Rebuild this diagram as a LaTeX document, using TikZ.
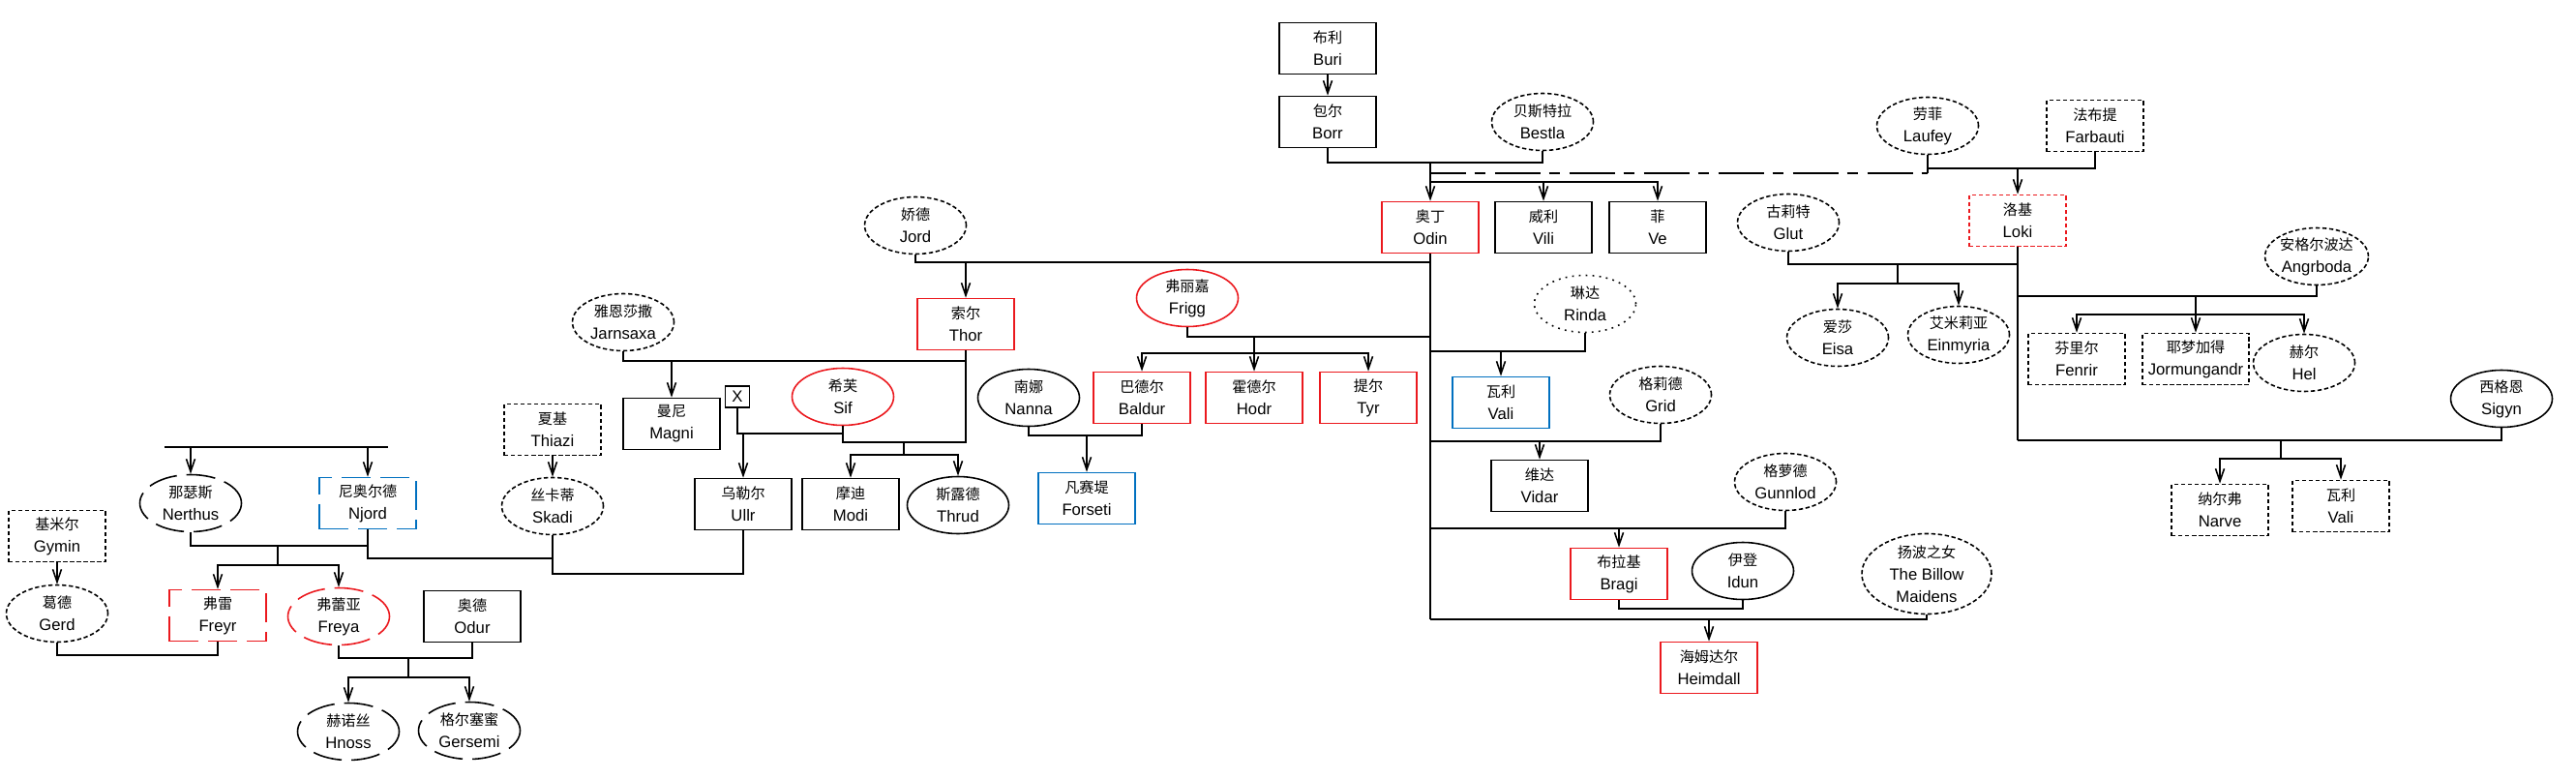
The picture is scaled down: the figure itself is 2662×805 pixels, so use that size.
\documentclass[tikz,border=0pt]{standalone}
\usepackage{fontspec}
\setmainfont{Liberation Sans}
\newfontfamily\cjk{Noto Sans CJK SC}
\usetikzlibrary{shapes.geometric,arrows.meta}
\definecolor{godred}{RGB}{235,25,30}
\definecolor{godblue}{RGB}{0,112,192}
\newcommand{\nm}[2]{{\cjk\fontsize{8.6}{13}\selectfont #1}\\#2}

\begin{document}
\begin{tikzpicture}[x=0.2mm,y=-0.2mm,line width=0.9pt,>={Straight Barb[length=2.6mm,width=1.8mm]}]
    \tikzstyle{god}=[draw,rectangle,minimum width=20mm,minimum height=10.6mm,inner sep=0pt,align=center,font=\fontsize{9.5}{13}\selectfont]
    \tikzstyle{kin}=[draw,ellipse,minimum width=21mm,minimum height=11.8mm,inner sep=0pt,align=center,font=\fontsize{9.5}{13}\selectfont]
    \tikzstyle{giant}=[dash pattern=on 2.5pt off 1.5pt]
    \tikzstyle{vanir}=[dash pattern=on 6mm off 2mm]
    \tikzstyle{faint}=[dash pattern=on 1pt off 3pt]
    \tikzstyle{aesir}=[draw=godred]
    \tikzstyle{later}=[draw=godblue]

    \useasboundingbox (0,0) rectangle (2662,805);

    \node[god] at (1372,50) (buri) {\nm{布利}{Buri}};
    \node[god] at (1372,126) (borr) {\nm{包尔}{Borr}};
    \node[kin,giant] at (1594,126) (bestla) {\nm{贝斯特拉}{Bestla}};
    \node[god,aesir] at (1478,235) (odin) {\nm{奥丁}{Odin}};
    \node[god] at (1595,235) (vili) {\nm{威利}{Vili}};
    \node[god] at (1713,235) (ve) {\nm{菲}{Ve}};
    \node[kin,giant] at (1992,130) (laufey) {\nm{劳菲}{Laufey}};
    \node[god,giant] at (2165,130) (farbauti) {\nm{法布提}{Farbauti}};
    \node[god,giant,aesir] at (2085,228) (loki) {\nm{洛基}{Loki}};
    \node[kin,giant] at (1848,230) (glut) {\nm{古莉特}{Glut}};
    \node[kin,giant] at (1899,349) (eisa) {\nm{爱莎}{Eisa}};
    \node[kin,giant] at (2024,346) (einmyria) {\nm{艾米莉亚}{Einmyria}};
    \node[kin,giant] at (2394,265) (angrboda) {\nm{安格尔波达}{Angrboda}};
    \node[god,giant] at (2146,371) (fenrir) {\nm{芬里尔}{Fenrir}};
    \node[god,giant,minimum width=22mm] at (2269,371) (jormungandr) {\nm{耶梦加得}{Jormungandr}};
    \node[kin,giant] at (2381,375) (hel) {\nm{赫尔}{Hel}};
    \node[kin] at (2585,412) (sigyn) {\nm{西格恩}{Sigyn}};
    \node[god,giant] at (2294,527) (narve) {\nm{纳尔弗}{Narve}};
    \node[god,giant] at (2419,523) (valiL) {\nm{瓦利}{Vali}};

    \node[kin,giant] at (946,233) (jord) {\nm{娇德}{Jord}};
    \node[god,aesir] at (998,335) (thor) {\nm{索尔}{Thor}};
    \node[kin,aesir] at (1227,308) (frigg) {\nm{弗丽嘉}{Frigg}};
    \node[god,aesir] at (1180,411) (baldur) {\nm{巴德尔}{Baldur}};
    \node[god,aesir] at (1296,411) (hodr) {\nm{霍德尔}{Hodr}};
    \node[god,aesir] at (1414,411) (tyr) {\nm{提尔}{Tyr}};
    \node[kin] at (1063,411) (nanna) {\nm{南娜}{Nanna}};
    \node[god,later] at (1123,515) (forseti) {\nm{凡赛堤}{Forseti}};
    \node[kin,faint] at (1638,314) (rinda) {\nm{琳达}{Rinda}};
    \node[god,later] at (1551,416) (valiO) {\nm{瓦利}{Vali}};
    \node[kin,giant] at (1716,408) (grid) {\nm{格莉德}{Grid}};
    \node[god] at (1591,502) (vidar) {\nm{维达}{Vidar}};
    \node[kin,giant] at (1845,498) (gunnlod) {\nm{格萝德}{Gunnlod}};
    \node[god,aesir] at (1673,593) (bragi) {\nm{布拉基}{Bragi}};
    \node[kin] at (1801,590) (idun) {\nm{伊登}{Idun}};
    \node[kin,giant,minimum width=26.8mm,minimum height=15mm] at (1991,593) (billow) {\nm{扬波之女}{The Billow\\Maidens}};
    \node[god,aesir] at (1766,690) (heimdall) {\nm{海姆达尔}{Heimdall}};

    \node[kin,giant] at (644,333) (jarnsaxa) {\nm{雅恩莎撒}{Jarnsaxa}};
    \node[god] at (694,438) (magni) {\nm{曼尼}{Magni}};
    \node[kin,aesir] at (871,410) (sif) {\nm{希芙}{Sif}};
    \node[god,minimum width=5mm,minimum height=4.4mm] at (762,410) (xmark) {X};
    \node[god] at (768,521) (ullr) {\nm{乌勒尔}{Ullr}};
    \node[god] at (879,521) (modi) {\nm{摩迪}{Modi}};
    \node[kin] at (990,522) (thrud) {\nm{斯露德}{Thrud}};
    \node[god,giant] at (571,444) (thiazi) {\nm{夏基}{Thiazi}};
    \node[kin,giant] at (571,523) (skadi) {\nm{丝卡蒂}{Skadi}};
    \node[kin,vanir] at (197,520) (nerthus) {\nm{那瑟斯}{Nerthus}};
    \node[god,vanir,later] at (380,520) (njord) {\nm{尼奥尔德}{Njord}};
    \node[god,vanir,aesir] at (225,636) (freyr) {\nm{弗雷}{Freyr}};
    \node[kin,vanir,aesir] at (350,637) (freya) {\nm{弗蕾亚}{Freya}};
    \node[god,giant] at (59,554) (gymin) {\nm{基米尔}{Gymin}};
    \node[kin,giant] at (59,634) (gerd) {\nm{葛德}{Gerd}};
    \node[god] at (488,637) (odur) {\nm{奥德}{Odur}};
    \node[kin,vanir] at (360,756) (hnoss) {\nm{赫诺丝}{Hnoss}};
    \node[kin,vanir] at (485,755) (gersemi) {\nm{格尔塞蜜}{Gersemi}};

    \coordinate (c1) at (1478,168);
    \coordinate (c2) at (1478,188);
    \coordinate (c3) at (1478,179);
    \coordinate (c4) at (1992,179);
    \coordinate (c5) at (2085,174);
    \coordinate (c6) at (998,271);
    \coordinate (c7) at (1296,348);
    \coordinate (c8) at (1296,365);
    \coordinate (c9) at (1551,363);
    \coordinate (c10) at (1591,456);
    \coordinate (c11) at (1673,546);
    \coordinate (c12) at (1737,629);
    \coordinate (c13) at (1766,640);
    \coordinate (c14) at (1961,273);
    \coordinate (c15) at (1961,293);
    \coordinate (c16) at (2269,306);
    \coordinate (c17) at (2269,325);
    \coordinate (c18) at (2357,455);
    \coordinate (c19) at (2357,474);
    \coordinate (c21) at (694,373);
    \coordinate (c22) at (934,457);
    \coordinate (c23) at (934,470);
    \coordinate (c24) at (768,448);
    \coordinate (c25) at (571,593);
    \coordinate (c26) at (571,577);
    \coordinate (c27) at (170,462);
    \coordinate (c28) at (401,462);
    \coordinate (c29) at (287,564);
    \coordinate (c30) at (287,584);
    \coordinate (c31) at (140,677);
    \coordinate (c32) at (422,680);
    \coordinate (c33) at (422,700);
    \coordinate (c34) at (1123,450);

    \draw[->] (buri) -- (borr);
    \draw (borr) |- (c1) -| (bestla);
    \draw[->] (c1) -- (odin);
    \draw[->] (c2) -| (vili);
    \draw[->] (c2) -| (ve);
    \draw[dash pattern=on 9.4mm off 1.8mm on 2.2mm off 2mm,dash phase=2.1mm] (c3) -- (c4);
    \draw (laufey) -- (c4);
    \draw (laufey) |- (c5) -| (farbauti);
    \draw[->] (c5) -- (loki);

    \draw[line width=1.2pt] (odin) -- (odin |- c13);
    \draw (jord) |- (odin |- c6);
    \draw[->] (c6) -- (thor);
    \draw (frigg) |- (odin |- c7);
    \draw (c7) -- (c8);
    \draw[->] (c8) -| (baldur);
    \draw[->] (c8) -- (hodr);
    \draw[->] (c8) -| (tyr);
    \draw (nanna) |- (c34) -| (baldur);
    \draw[->] (c34) -- (forseti);
    \draw (rinda) |- (odin |- c9);
    \draw[->] (c9) -- (valiO);
    \draw (grid) |- (odin |- c10);
    \draw[->] (c10) -- (vidar);
    \draw (gunnlod) |- (odin |- c11);
    \draw[->] (c11) -- (bragi);
    \draw (bragi) |- (c12) -| (idun);
    \draw (billow) |- (odin |- c13);
    \draw[->] (c13) -- (heimdall);

    \draw (loki) -- (loki |- c18);
    \draw (glut) |- (loki |- c14);
    \draw (c14) -- (c15);
    \draw[->] (c15) -| (eisa);
    \draw[->] (c15) -| (einmyria);
    \draw (angrboda) |- (loki |- c16);
    \draw (c16) -- (c17);
    \draw[->] (c17) -| (fenrir);
    \draw[->] (c17) -- (jormungandr);
    \draw[->] (c17) -| (hel);
    \draw (sigyn) |- (loki |- c18);
    \draw (c18) -- (c19);
    \draw[->] (c19) -| (narve);
    \draw[->] (c19) -| (valiL);

    \draw (jarnsaxa) |- (thor |- c21);
    \draw[->] (c21) -- (magni);
    \draw (thor) |- (c22) -| (sif);
    \draw (c22) -- (c23);
    \draw[->] (c23) -| (modi);
    \draw[->] (c23) -| (thrud);
    \draw (xmark) |- (sif |- c24);
    \draw[->] (c24) -- (ullr);
    \draw[->] (thiazi) -- (skadi);
    \draw (ullr) |- (c25) -- (skadi);
    \draw (njord) |- (c26);

    \draw (c27) -- (c28);
    \draw[->] (nerthus |- c27) -- (nerthus);
    \draw[->] (njord |- c27) -- (njord);
    \draw (nerthus) |- (c29) -| (njord);
    \draw (c29) -- (c30);
    \draw[->] (c30) -| (freyr);
    \draw[->] (c30) -| (freya);
    \draw[->] (gymin) -- (gerd);
    \draw (gerd) |- (c31) -| (freyr);
    \draw (freya) |- (c32) -| (odur);
    \draw (c32) -- (c33);
    \draw[->] (c33) -| (hnoss);
    \draw[->] (c33) -| (gersemi);
\end{tikzpicture}
\end{document}
